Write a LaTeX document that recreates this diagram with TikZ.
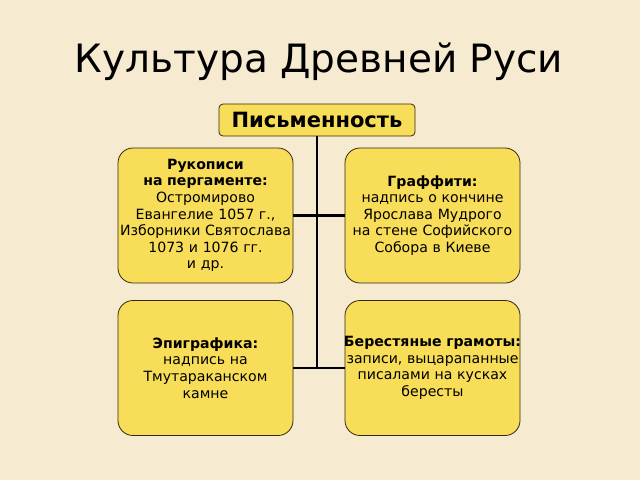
\documentclass[tikz,border=0pt]{standalone}
\usepackage{fontspec}
\setmainfont{DejaVu Sans}
\definecolor{bgcol}{RGB}{246,235,208}
\definecolor{boxfill}{RGB}{248,221,88}
\definecolor{boxline}{RGB}{50,40,15}
\tikzset{
  catbox/.style={draw=boxline, line width=0.8pt, fill=boxfill, rounded corners=15pt,
    minimum width=175pt, minimum height=135pt, text width=175pt, align=center,
    inner sep=0pt, font=\fontsize{14.1}{16.6}\selectfont},
  headbox/.style={draw=boxline, line width=0.8pt, fill=boxfill, rounded corners=4pt,
    minimum width=196pt, minimum height=32pt, inner sep=0pt,
    font=\fontsize{21}{23}\selectfont\bfseries},
  conn/.style={line width=2.6pt, black}
}
\begin{document}
\begin{tikzpicture}[x=1pt,y=-1pt]
\fill[bgcol] (0,0) rectangle (640,480);
\useasboundingbox (0,0) rectangle (640,480);
\node[font=\fontsize{39}{41}\selectfont] (title) at (319,62) {Культура Древней Руси};
\node[headbox] (head) at (317,120) {Письменность};
\coordinate (j2) at (317,368);
\draw[conn] (head.south) -- (j2);
\node[catbox] (tl) at (205.5,215.5) {\textbf{Рукописи}\\\textbf{на пергаменте:}\\Остромирово\\Евангелие 1057 г.,\\Изборники Святослава\\1073 и 1076 гг.\\и др.};
\node[catbox] (tr) at (432.5,215.5) {\textbf{Граффити:}\\надпись о кончине\\Ярослава Мудрого\\на стене Софийского\\Собора в Киеве};
\node[catbox] (bl) at (205.5,368) {\textbf{Эпиграфика:}\\надпись на\\Тмутараканском\\камне};
\node[catbox] (br) at (432.5,368) {\makebox[\linewidth]{\textbf{Берестяные грамоты:}}\\\makebox[\linewidth]{записи, выцарапанные}\\писалами на кусках\\бересты};
\draw[conn] (tl.east) -- (tr.west);
\draw[conn] (bl.east) -- (br.west);
\end{tikzpicture}
\end{document}
